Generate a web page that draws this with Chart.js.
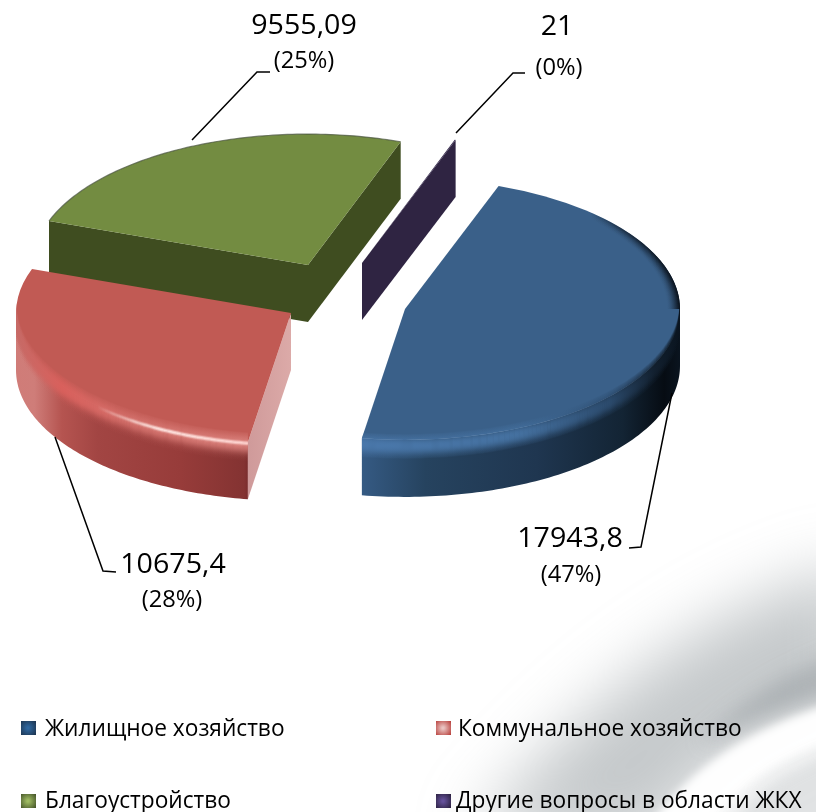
<!DOCTYPE html>
<html><head><meta charset="utf-8">
<style>html,body{margin:0;padding:0;background:#fff}canvas{display:block}</style>
<script src="https://cdn.jsdelivr.net/npm/chart.js@4/dist/chart.umd.min.js"></script>
</head><body><canvas id="c" width="816" height="812"></canvas>
<script>
const categories = ['Жилищное хозяйство','Коммунальное хозяйство','Благоустройство','Другие вопросы в области ЖКХ'];
const values = [17943.8,10675.4,9555.09,21];
const valueLabels = ['17943,8','10675,4','9555,09','21'];
const topColors = ['#3a6089','#c15a54','#738c41','#32264a'];

const sliceShiftX = [60,-54,-37,17];
const sliceShiftY = [6,10,-38,-40];
const drawOrder = [2,3,1,0];
const squash = 0.476, depth = 57, pieRotation = 19.9, pieRadius = 275;
const FONT = '"Open Sans","Noto Sans",sans-serif';

const leaderLines = [[[672,393],[641,547],[629,548]],[[55,437],[103,571],[116,572]],[[192,140],[257,72],[270,72]],[[456,133],[513,73],[525,73]]];
const valueAnchors = [[570,547],[173,573],[304,34],[557,35]];
const percentAnchors = [[571,582],[172,607],[304,68],[559,75]];
const legendBoxes = [[21,721],[436,721],[21,794],[436,794]];
const legendText = [[45,736],[458,736],[45,808],[456,808]];
const legendShades = [['#1d3550','#2f679f'],['#b9423e','#e9c3c1'],['#46562a','#9fbb62'],['#2b2140','#64509a']];

function squeeze(ctx,t,x,y,sx){ctx.save();ctx.translate(x,y);ctx.scale(sx,1);ctx.fillText(t,0,0);ctx.restore();}
function hGrad(ctx,stops,x0,x1){const g=ctx.createLinearGradient(x0,0,x1,0);stops.forEach(s=>g.addColorStop(s[0],s[1]));return g;}
function blob(ctx,blur,fill,draw){ctx.filter='blur('+blur+'px)';ctx.fillStyle=fill;ctx.beginPath();draw();ctx.closePath();ctx.fill();}

const pie3d={id:'pie3d',
 beforeDraw(chart){
  const ctx=chart.ctx;ctx.save();
  ctx.fillStyle='#fff';ctx.fillRect(0,0,816,812);
  blob(ctx,32,'rgba(140,148,152,.5)',()=>{ctx.moveTo(860,565);ctx.bezierCurveTo(720,600,590,690,470,840);ctx.lineTo(660,840);ctx.bezierCurveTo(700,770,770,730,860,700);});
  blob(ctx,10,'rgba(120,130,133,.38)',()=>{ctx.moveTo(850,650);ctx.bezierCurveTo(790,670,740,700,700,745);ctx.bezierCurveTo(745,725,790,705,850,695);});
  blob(ctx,4,'rgba(255,255,255,.95)',()=>{ctx.moveTo(850,698);ctx.bezierCurveTo(760,725,690,760,640,840);ctx.lineTo(700,840);ctx.bezierCurveTo(730,790,780,755,850,735);});
  blob(ctx,8,'rgba(170,175,178,.35)',()=>{ctx.moveTo(850,745);ctx.bezierCurveTo(790,765,745,790,720,840);ctx.lineTo(850,840);});
  ctx.filter='none';ctx.restore();
 },
 beforeDatasetDraw(chart){
  const ctx=chart.ctx,arcs=chart.getDatasetMeta(0).data;
  drawOrder.forEach(i=>{
   const a=arcs[i],r=a.outerRadius,dx=sliceShiftX[i],dy=sliceShiftY[i];
   const P=(ang,rr=r)=>({x:a.x+dx+rr*Math.cos(ang),y:a.y+dy+rr*Math.sin(ang)*squash});
   const apex=P(0,0),s=a.startAngle,e=a.endAngle;
   const face=(ang,fill)=>{const p=P(ang);ctx.fillStyle=fill;ctx.beginPath();ctx.moveTo(apex.x,apex.y);ctx.lineTo(p.x,p.y);ctx.lineTo(p.x,p.y+depth);ctx.lineTo(apex.x,apex.y+depth);ctx.closePath();ctx.fill();};
   const lo=Math.max(s,0),hi=Math.min(e,Math.PI);
   const trace=(from,to,off,rr=r,move=true)=>{const n=90;for(let t=0;t<=n;t++){const p=P(from+(to-from)*t/n,rr);(t||!move)?ctx.lineTo(p.x,p.y+off):ctx.moveTo(p.x,p.y+off);}};
   const wall=fill=>{if(hi<=lo)return;ctx.beginPath();trace(lo,hi,0);trace(hi,lo,depth,r,false);ctx.closePath();ctx.fillStyle=fill;ctx.fill();};

   if(i===2){face(s,'#3f4d20');face(e,'#3f4d20');}
   if(i===3){face(e,'#2f2442');}
   if(i===1){
    const p=P(s),g=ctx.createLinearGradient(p.x,0,apex.x,0);g.addColorStop(0,'#cf9a9a');g.addColorStop(1,'#dcaaa8');
    face(s,g);
    wall(hGrad(ctx,[[0,'#d07c78'],[.07,'#cf7d79'],[.17,'#b55450'],[.3,'#a24543'],[.6,'#973c3a'],[.83,'#843332'],[.84,'#7d2e2e'],[1,'#7d2e2e']],15,291));
   }
   if(i===0){
    wall(hGrad(ctx,[[0,'#355a83'],[.2,'#26435f'],[.55,'#1f3650'],[.82,'#132434'],[.95,'#060c13'],[1,'#0a141f']],362,680));
   }

   // top face: the arc element draws itself
   ctx.save();
   ctx.translate(a.x+dx,a.y+dy);ctx.scale(1,squash);ctx.translate(-a.x,-a.y);
   a.draw(ctx);
   ctx.restore();

   const silhouette=()=>{ctx.beginPath();ctx.moveTo(apex.x,apex.y);if(s<lo)trace(s,lo,0,r,false);trace(lo,hi,depth,r,false);if(hi<e)trace(hi,e,0,r,false);else{const p=P(hi);ctx.lineTo(p.x,p.y);}ctx.closePath();};
   const rim=(stroke,j0,j1,peak,sigma,gain=1)=>{
    ctx.save();silhouette();ctx.clip();ctx.strokeStyle=stroke;ctx.lineWidth=1.5;
    for(let j=j0;j<=j1;j+=1){ctx.globalAlpha=gain*Math.exp(-Math.pow((j-peak)/sigma,2));ctx.beginPath();trace(lo,hi,j);ctx.stroke();}
    ctx.restore();
   };
   if(i===1){
    rim(hGrad(ctx,[[0,'#c66a66'],[.2,'#d9605c'],[.5,'#d3706b'],[1,'#d9807b']],15,250),-9,18,2,8);
    rim(hGrad(ctx,[[0,'rgba(255,235,230,0)'],[.35,'rgba(255,235,230,0)'],[.62,'#ffe6e2'],[.95,'#ffd8d4'],[1,'#ffd8d4']],15,250),-1,4,1,1.6,.9);
   }
   if(i===0){
    rim(hGrad(ctx,[[0,'#4a78ab'],[.5,'#44709f'],[.78,'#2b4a6c'],[.92,'#12202f'],[1,'#0a141f']],362,680),-5,18,6,8);
    ctx.save();silhouette();ctx.clip();
    ctx.strokeStyle=hGrad(ctx,[[0,'rgba(8,15,24,0)'],[.55,'rgba(8,15,24,.55)'],[1,'rgba(8,15,24,1)']],590,680);ctx.lineWidth=1.5;
    for(let j=0;j<14;j++){ctx.globalAlpha=Math.pow(1-j/14,2);ctx.beginPath();trace(-1.0,0,0,r-j);ctx.stroke();}
    ctx.restore();
   }
   if(i===2){ctx.strokeStyle='rgba(70,80,60,.7)';ctx.lineWidth=1.2;ctx.beginPath();trace(s,e,0);ctx.stroke();}
  });
  return false;
 },
 afterDraw(chart){
  const ctx=chart.ctx,total=values.reduce((p,c)=>p+c,0);
  ctx.save();ctx.strokeStyle='#000';ctx.lineWidth=1.5;
  leaderLines.forEach(l=>{ctx.beginPath();l.forEach((p,k)=>k?ctx.lineTo(p[0],p[1]):ctx.moveTo(p[0],p[1]));ctx.stroke();});
  ctx.restore();
  ctx.fillStyle='#000';ctx.textBaseline='alphabetic';ctx.textAlign='center';
  values.forEach((v,i)=>{
   ctx.font='27px '+FONT;squeeze(ctx,valueLabels[i],valueAnchors[i][0],valueAnchors[i][1],1.06);
   ctx.font='23px '+FONT;squeeze(ctx,'('+Math.round(v/total*100)+'%)',percentAnchors[i][0],percentAnchors[i][1],1.03);
  });
  ctx.textAlign='left';ctx.font='24px '+FONT;
  categories.forEach((c,i)=>{
   const [x,y]=legendBoxes[i];
   const g=ctx.createRadialGradient(x+7,y+7,1,x+7,y+7,10);g.addColorStop(0,legendShades[i][1]);g.addColorStop(1,legendShades[i][0]);
   ctx.fillStyle=g;ctx.fillRect(x,y,15,14);
   ctx.fillStyle='#000';squeeze(ctx,c,legendText[i][0],legendText[i][1],.945);
  });
 }
};

new Chart(document.getElementById('c'),{
 type:'pie',
 data:{labels:categories,datasets:[{data:values,backgroundColor:topColors,borderWidth:0,radius:pieRadius}]},
 options:{responsive:false,animation:false,rotation:pieRotation,events:[],
  layout:{padding:{left:0,top:0,right:126,bottom:206}},
  plugins:{legend:{display:false},tooltip:{enabled:false}}},
 plugins:[pie3d]
});
</script></body></html>
